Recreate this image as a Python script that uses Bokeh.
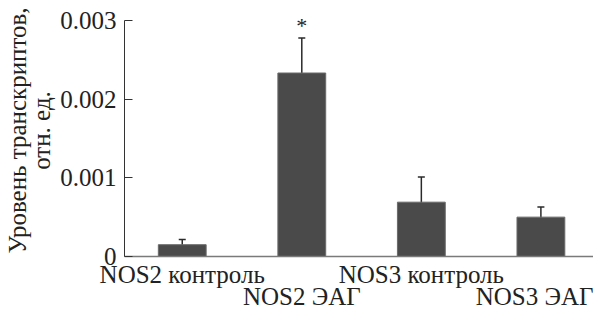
from bokeh.plotting import figure
from bokeh.models import Range1d, FixedTicker, Whisker, ColumnDataSource, TeeHead
from bokeh.core.properties import value
from bokeh.embed import file_html
from bokeh.resources import INLINE

categories = ["NOS2 контроль", "NOS2 ЭАГ", "NOS3 контроль", "NOS3 ЭАГ"]
means = [0.000150, 0.002330, 0.000690, 0.000500]
upper = [0.000215, 0.002775, 0.001010, 0.000630]
lower = [0.000085, 0.001880, 0.000355, 0.000350]
marks = ["", "*", "", ""]
y_ticks = [0, 0.001, 0.002, 0.003]
y_tick_labels = ["0", "0.001", "0.002", "0.003"]
y_label = "Уровень транскриптов,\nотн. ед."

FONT = "Liberation Serif"
xs = list(range(len(categories)))

p = figure(width=593, height=314, output_backend="svg", toolbar_location=None,
           x_range=Range1d(-0.483, 3.44), y_range=Range1d(0, 0.0032),
           min_border_left=122, min_border_right=0, min_border_top=4, min_border_bottom=58)
p.background_fill_color = "white"
p.border_fill_color = "white"
p.outline_line_color = None
p.grid.visible = False

src = ColumnDataSource(dict(x=xs, m=means, up=upper, lo=lower))
p.vbar(x="x", top="m", width=0.4, bottom=0, source=src,
       fill_color="#4a4a4a", line_color="#6a6a6a", line_width=1)
p.add_layout(Whisker(base="x", upper="up", lower="lo", source=src,
                     line_color="#2a2a2a", line_width=1.5,
                     upper_head=TeeHead(size=7, line_color="#2a2a2a", line_width=1.5),
                     lower_head=TeeHead(size=7, line_color="#2a2a2a", line_width=1.5)))

mx = [x for x, m in zip(xs, marks) if m]
my = [u + 0.00016 for u, m in zip(upper, marks) if m]
mt = [m for m in marks if m]
p.text(x=mx, y=my, text=mt, text_align="center", text_baseline="alphabetic",
       text_font=value(FONT), text_font_size="22px", text_color="#222")

# y axis
ya = p.yaxis[0]
ya.ticker = FixedTicker(ticks=y_ticks)
ya.major_label_overrides = {t: l for t, l in zip(y_ticks, y_tick_labels)}
ya.bounds = (0, 0.003)
ya.major_tick_in = 8
ya.major_tick_out = 0
ya.minor_tick_line_color = None
ya.axis_line_color = "#333333"
ya.major_tick_line_color = "#333333"
ya.major_label_standoff = 8
ya.major_label_text_font = FONT
ya.major_label_text_font_size = "25px"
ya.major_label_text_color = "#222222"
ya.axis_label = y_label
ya.axis_label_text_font = FONT
ya.axis_label_text_font_style = "normal"
ya.axis_label_text_font_size = "25px"
ya.axis_label_text_color = "#222222"
ya.axis_label_text_line_height = 0.9
ya.axis_label_standoff = 2

# x axis, staggered labels (every second label on a second line)
xa = p.xaxis[0]
xa.ticker = FixedTicker(ticks=xs)
xa.major_label_overrides = {x: (categories[x] if x % 2 == 0 else "\n" + categories[x]) for x in xs}
xa.major_tick_line_color = None
xa.minor_tick_line_color = None
xa.major_tick_in = 0
xa.major_tick_out = 0
xa.major_label_text_font = FONT
xa.major_label_text_font_size = "25px"
xa.major_label_text_color = "#222222"
xa.major_label_text_line_height = 0.85
xa.axis_line_color = "#7a7a7a"
xa.axis_line_width = 1.5
xa.major_label_standoff = 4
xa.axis_label_standoff = 0

open("out.html", "w").write(file_html(p, INLINE))
